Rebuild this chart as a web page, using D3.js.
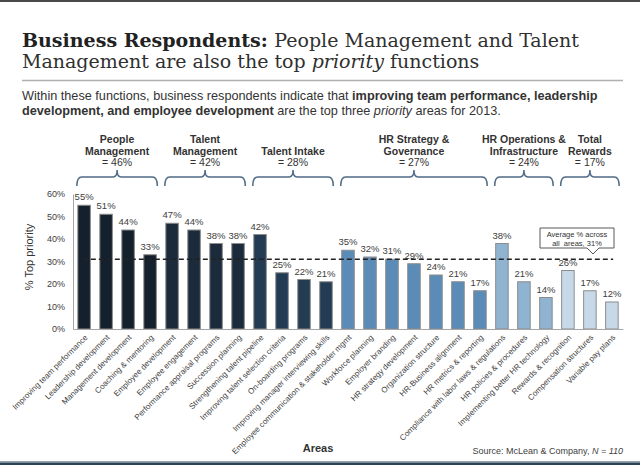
<!DOCTYPE html>
<html>
<head>
<meta charset="utf-8">
<script src="https://cdn.jsdelivr.net/npm/d3@7"></script>
<style>
  body { margin: 0; background: #fff; }
  svg { display: block; font-family: "Liberation Sans", Arial, sans-serif; }
</style>
</head>
<body>
<div id="chart"></div>
<script>
// areas along the x axis
var areas = [
  "Improving team performance", "Leadership development", "Management development", "Coaching & mentoring",
  "Employee development", "Employee engagement", "Performance appraisal programs", "Succession planning",
  "Strengthening talent pipeline", "Improving talent selection criteria", "On-boarding programs", "Improving manager interviewing skills",
  "Employee communication & stakeholder mgmt", "Workforce planning", "Employer branding", "HR strategy development",
  "Organization structure", "HR-Business alignment", "HR metrics & reporting",
  "Compliance with labor laws & regulations", "HR policies & procedures", "Implementing better HR technology",
  "Rewards & recognition", "Compensation structures", "Variable pay plans"
];

var values = [55, 51, 44, 33, 47, 44, 38, 38, 42, 25, 22, 21, 35, 32, 31, 29, 24, 21, 17, 38, 21, 14, 26, 17, 12];

// which function each area belongs to (index into groupNames)
var groupOf = [0, 0, 0, 0, 1, 1, 1, 1, 2, 2, 2, 2, 3, 3, 3, 3, 3, 3, 3, 4, 4, 4, 5, 5, 5];
var groupNames = [["People", "Management"], ["Talent", "Management"], ["Talent Intake"],
                  ["HR Strategy &", "Governance"], ["HR Operations &", "Infrastructure"], ["Total", "Rewards"]];
var groupAvg = [46, 42, 28, 27, 24, 17];
var groupColors = ["#14202c", "#1b2b3b", "#233c54", "#5b8cb7", "#8fb3d1", "#c7d9e8"];

var average = 31;
var yTicks = [0, 10, 20, 30, 40, 50, 60];

var svg = d3.select("#chart").append("svg")
  .attr("width", 640)
  .attr("height", 465);

// frame lines top and bottom
svg.append("rect").attr("x", 0).attr("y", 0).attr("width", 640).attr("height", 2).attr("fill", "#4a4a4a");
svg.append("rect").attr("x", 0).attr("y", 461).attr("width", 640).attr("height", 1.5).attr("fill", "#9aa3ab");
svg.append("rect").attr("x", 0).attr("y", 462.5).attr("width", 640).attr("height", 3).attr("fill", "#2b4358");

// title
var title = svg.append("text")
  .attr("font-family", "'DejaVu Serif', Georgia, serif")
  .attr("font-size", 19)
  .attr("fill", "#303030")
  .attr("x", 22).attr("y", 47);
title.append("tspan").attr("font-weight", "bold").attr("fill", "#222").text("Business Respondents: ");
title.append("tspan").text("People Management and Talent");
var title2 = svg.append("text")
  .attr("font-family", "'DejaVu Serif', Georgia, serif")
  .attr("font-size", 19)
  .attr("fill", "#303030")
  .attr("x", 22).attr("y", 68);
title2.append("tspan").text("Management are also the top ");
title2.append("tspan").attr("font-style", "italic").text("priority");
title2.append("tspan").text(" functions");

svg.append("line")
  .attr("x1", 22).attr("x2", 623).attr("y1", 80.5).attr("y2", 80.5)
  .attr("stroke", "#b0b0b0").attr("stroke-width", 1.5);

var sub1 = svg.append("text").attr("x", 22).attr("y", 100).attr("font-size", 12.7).attr("fill", "#333");
sub1.append("tspan").text("Within these functions, business respondents indicate that ");
sub1.append("tspan").attr("font-weight", "bold").text("improving team performance, leadership");
var sub2 = svg.append("text").attr("x", 22).attr("y", 114.5).attr("font-size", 12.7).attr("fill", "#333");
sub2.append("tspan").attr("font-weight", "bold").text("development, and employee development");
sub2.append("tspan").text(" are the top three ");
sub2.append("tspan").attr("font-style", "italic").text("priority");
sub2.append("tspan").text(" areas for 2013.");

// scales
var x = d3.scaleBand()
  .domain(areas)
  .range([73, 623])
  .paddingInner(0.43)
  .paddingOuter(0.22);

var y = d3.scaleLinear()
  .domain([0, 60])
  .range([329, 194]);

// y axis
var yAxis = svg.append("g")
  .attr("transform", "translate(73,0)")
  .call(d3.axisLeft(y).tickValues(yTicks).tickSize(0).tickPadding(8).tickFormat(function (d) { return d + "%"; }));
yAxis.select(".domain").attr("stroke", "#a6a6a6");
yAxis.selectAll("text").attr("font-size", 9).attr("fill", "#404040").attr("font-family", "'Liberation Sans', Arial, sans-serif");

svg.append("text")
  .attr("transform", "translate(33,257) rotate(-90)")
  .attr("text-anchor", "middle")
  .attr("font-size", 11)
  .attr("fill", "#333")
  .text("%  Top priority");

// bars
svg.selectAll("rect.bar")
  .data(values)
  .enter()
    .append("rect")
    .attr("class", "bar")
    .attr("x", function (d, i) { return x(areas[i]); })
    .attr("y", function (d) { return y(d); })
    .attr("width", x.bandwidth())
    .attr("height", function (d) { return y(0) - y(d); })
    .attr("fill", function (d, i) { return groupColors[groupOf[i]]; })
    .attr("stroke", "#8c8c8c")
    .attr("stroke-width", 1);

// x axis
var xAxis = svg.append("g")
  .attr("transform", "translate(0,329)")
  .call(d3.axisBottom(x).tickSize(0).tickPadding(0));
xAxis.select(".domain").attr("stroke", "#a6a6a6");
xAxis.selectAll("text")
  .attr("font-size", 8)
  .attr("fill", "#404040")
  .attr("font-family", "'Liberation Sans', Arial, sans-serif")
  .attr("text-anchor", "end")
  .attr("dy", 0)
  .attr("transform", "translate(4,9) rotate(-45)");

// value labels
svg.selectAll("text.val")
  .data(values)
  .enter()
    .append("text")
    .attr("class", "val")
    .attr("x", function (d, i) { return x(areas[i]) + x.bandwidth() / 2; })
    .attr("y", function (d) { return y(d) - 5; })
    .attr("text-anchor", "middle")
    .attr("font-size", 9.5)
    .attr("fill", "#404040")
    .text(function (d) { return d + "%"; });

// average line
svg.append("line")
  .attr("x1", x(areas[0]) + 5).attr("x2", x(areas[areas.length - 1]) + x.bandwidth() - 5)
  .attr("y1", y(average)).attr("y2", y(average))
  .attr("stroke", "#222").attr("stroke-width", 1.5)
  .attr("stroke-dasharray", "5,3");

// callout for average
var boxL = 540, boxR = 614, boxT = 228, boxB = 248, tipX = 593;
svg.append("path")
  .attr("d", "M" + boxL + "," + boxT + " L" + boxR + "," + boxT + " L" + boxR + "," + boxB +
             " L" + (tipX + 6) + "," + boxB + " L" + tipX + "," + (boxB + 6) + " L" + (tipX - 6) + "," + boxB +
             " L" + boxL + "," + boxB + " Z")
  .attr("fill", "#fff").attr("stroke", "#595959").attr("stroke-width", 1);
svg.append("text").attr("x", (boxL + boxR) / 2).attr("y", 237).attr("text-anchor", "middle")
  .attr("font-size", 7.5).attr("fill", "#333").text("Average % across");
svg.append("text").attr("x", (boxL + boxR) / 2).attr("y", 245.5).attr("text-anchor", "middle")
  .attr("font-size", 7.5).attr("fill", "#333").attr("xml:space", "preserve").text("all  areas, " + average + "%");

// group braces and labels
var groups = groupNames.map(function (name, g) {
  var idx = [];
  groupOf.forEach(function (v, i) { if (v === g) idx.push(i); });
  return {
    name: name,
    avg: groupAvg[g],
    x0: x(areas[idx[0]]) - 1,
    x1: x(areas[idx[idx.length - 1]]) + x.bandwidth() + 1
  };
});

svg.selectAll("path.brace")
  .data(groups)
  .enter()
    .append("path")
    .attr("class", "brace")
    .attr("d", function (d) {
      var m = (d.x0 + d.x1) / 2;
      return "M" + d.x0 + ",186 Q" + d.x0 + ",177 " + (d.x0 + 5) + ",177 L" + (m - 4) + ",177 Q" + m + ",177 " + m + ",170" +
             " Q" + m + ",177 " + (m + 4) + ",177 L" + (d.x1 - 5) + ",177 Q" + d.x1 + ",177 " + d.x1 + ",186";
    })
    .attr("fill", "none")
    .attr("stroke", "#4f6b86")
    .attr("stroke-width", 1.5);

var glabels = svg.selectAll("text.grp")
  .data(groups)
  .enter()
    .append("text")
    .attr("class", "grp")
    .attr("text-anchor", "middle")
    .attr("font-size", 10.5)
    .attr("fill", "#333");

glabels.each(function (d) {
  var t = d3.select(this);
  var m = (d.x0 + d.x1) / 2;
  var start = 166 - d.name.length * 11.5;
  d.name.forEach(function (line, k) {
    t.append("tspan").attr("x", m).attr("y", start + k * 11.5).attr("font-weight", "bold").text(line);
  });
  t.append("tspan").attr("x", m).attr("y", 166).text("= " + d.avg + "%");
});

// footer texts
svg.append("text")
  .attr("x", 318).attr("y", 452)
  .attr("text-anchor", "middle")
  .attr("font-size", 11).attr("font-weight", "bold").attr("fill", "#333")
  .text("Areas");

var src = svg.append("text")
  .attr("x", 623).attr("y", 454)
  .attr("text-anchor", "end")
  .attr("font-size", 9).attr("fill", "#404040");
src.append("tspan").text("Source: McLean & Company, ");
src.append("tspan").attr("font-style", "italic").text("N = 110");
</script>
</body>
</html>
